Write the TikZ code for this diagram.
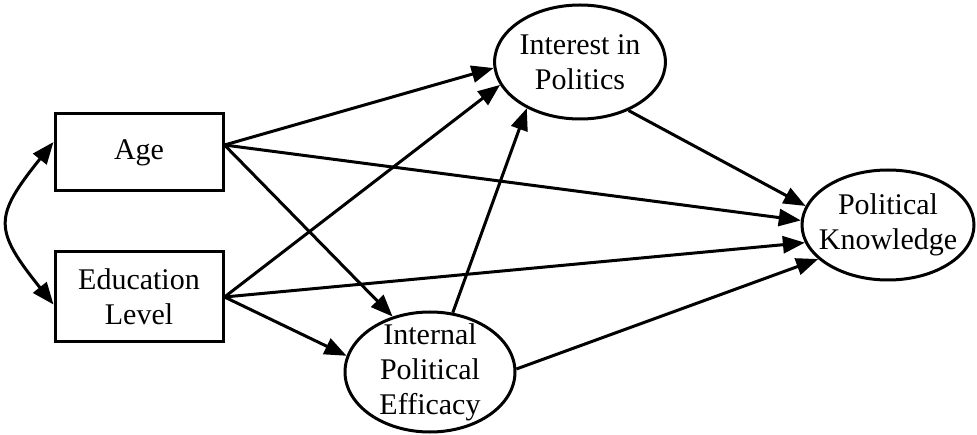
\documentclass[tikz,border=0pt]{standalone}
\usepackage{fontspec}
\setmainfont{Liberation Serif}
\usetikzlibrary{positioning,arrows.meta,shapes.geometric}

\begin{document}
\begin{tikzpicture}[
  x=1pt, y=-1pt,
  >={Triangle[length=22pt,width=17pt]},
  font=\fontsize{30}{35}\selectfont,
  line width=3pt,
  box/.style={
     draw,
     minimum width=168pt,
     inner sep=0pt,
     align=center
  },
  oval/.style={
     draw,
     ellipse,
     inner sep=0pt,
     align=center
  }
]
\useasboundingbox (0,0) rectangle (977,435);

\node[box, minimum height=77pt] (age) at (139,152.5) {Age};
\node[box, minimum height=90pt, below=58pt of age] (edu) {Education\\Level};

\node[oval, minimum width=170pt, minimum height=114pt] (interest) at (580,62) {Interest in\\Politics};
\node[oval, minimum width=172pt, minimum height=110pt, inner xsep=-10pt] (knowledge) at (888,225) {Political\\Knowledge};
\node[oval, minimum width=170pt, minimum height=120pt, inner ysep=-8pt] (efficacy) at (430,372) {Internal\\Political\\Efficacy};

% correlation between the two predictors
\draw[<->] (age.173) .. controls +(-60,75) and +(-60,-75) .. (edu.185);

\draw[->] (age.5) -- (interest.184);
\draw[->] (age.5) -- (knowledge.177);
\draw[->] (age.5) -- (efficacy.124);

\draw[->] (edu.east) -- (interest.196);
\draw[->] (edu.east) -- (knowledge.192);
\draw[->] (edu.east) -- (efficacy.169);

\draw[->] (efficacy.69) -- (interest.221);
\draw[->] (efficacy.2)  -- (knowledge.206);
\draw[->] (interest.-45) -- (knowledge.167);

\end{tikzpicture}
\end{document}
